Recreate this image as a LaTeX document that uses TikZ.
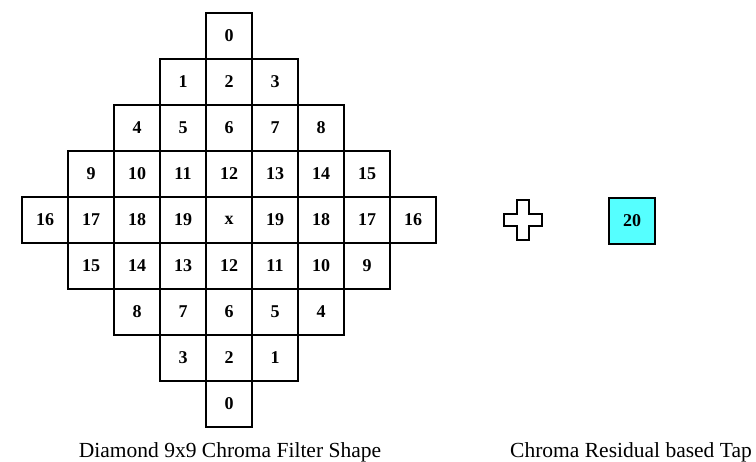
\documentclass[tikz,border=0pt]{standalone}
\usepackage{fontspec}
\setmainfont{Liberation Serif}
\definecolor{tapcyan}{RGB}{85,255,255}
\begin{document}
\begin{tikzpicture}[x=1pt,y=-1pt,
  cell/.style={draw,line width=2pt,minimum size=46pt,inner sep=0pt,
    font=\fontsize{18}{20}\selectfont\bfseries},
  tapbox/.style={cell,fill=tapcyan},
  crossshape/.style={draw,line width=2pt,fill=white,line join=miter},
  caption/.style={anchor=base,inner sep=0pt,font=\fontsize{21.5}{24}\selectfont}]
\useasboundingbox (0,0) rectangle (756,462);
\foreach \r/\s/\lst in {-4/0/{0}, -3/-1/{1,2,3}, -2/-2/{4,5,6,7,8},
    -1/-3/{9,10,11,12,13,14,15}, 0/-4/{16,17,18,19,x,19,18,17,16},
    1/-3/{15,14,13,12,11,10,9}, 2/-2/{8,7,6,5,4}, 3/-1/{3,2,1}, 4/0/{0}} {
  \foreach \t [count=\i from 0] in \lst {
    \pgfmathtruncatemacro\c{\s+\i}
    \node[cell] (n\r c\c) at ({229+46*\c},{220+46*\r}) {\t};
  }
}
\begin{scope}[shift={(523,220)}]
  \draw[crossshape] (-19,-6) -- (-6,-6) -- (-6,-20) -- (6,-20)
    -- (6,-6) -- (19,-6) -- (19,6) -- (6,6) -- (6,20)
    -- (-6,20) -- (-6,6) -- (-19,6) -- cycle;
\end{scope}
\node[tapbox] (tap) at (632,221) {20};
\node[caption] (cap1) at (230,457.5) {Diamond 9x9 Chroma Filter Shape};
\node[caption] (cap2) at (631,457.5) {Chroma Residual based Tap};
\end{tikzpicture}
\end{document}
